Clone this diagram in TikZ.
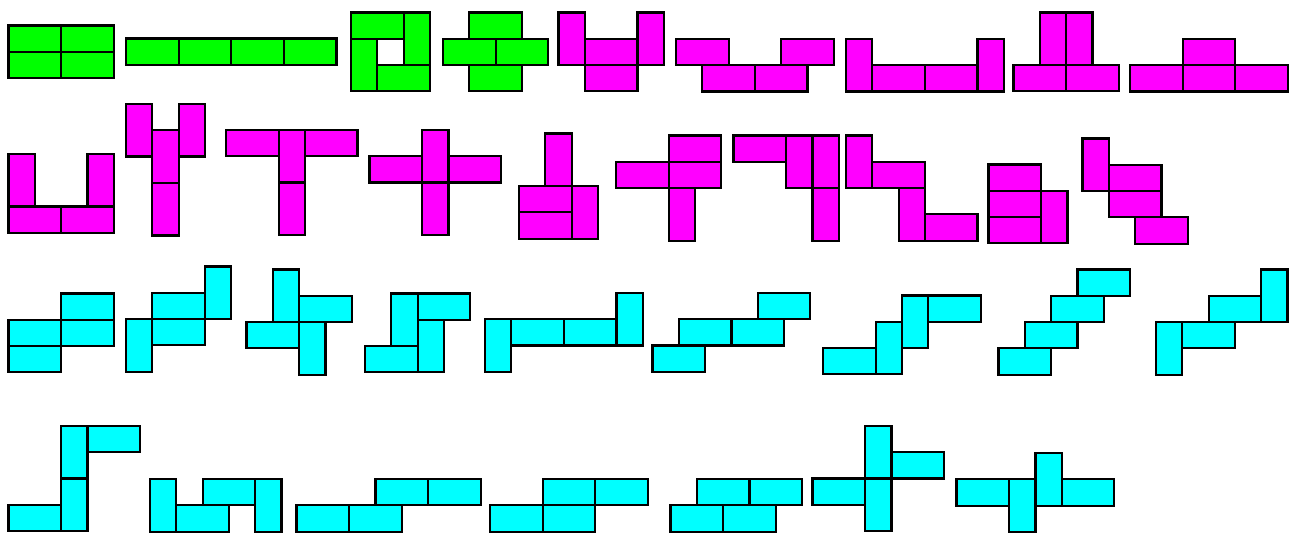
\documentclass[tikz,border=0pt]{standalone}
\definecolor{tg}{RGB}{0,255,0}
\definecolor{tm}{RGB}{255,0,255}
\definecolor{tc}{RGB}{0,255,255}
\tikzset{
  tile/.style={draw=black, line width=2.2pt, line join=miter},
  gfill/.style={tile/.append style={fill=tg}},
  mfill/.style={tile/.append style={fill=tm}},
  cfill/.style={tile/.append style={fill=tc}},
  cellunit/.style={x=26.3pt, y=-26.3pt}
}
\newcommand\Hd[2]{\draw[tile] (#1,#2) rectangle ++(2,1);}
\newcommand\Vd[2]{\draw[tile] (#1,#2) rectangle ++(1,2);}
\newcommand\piece[3]{\begin{scope}[shift={(#1,#2)},cellunit,#3]}
\begin{document}
\begin{tikzpicture}[x=1pt,y=-1pt]
\useasboundingbox (0,0) rectangle (1291,534);
% row 1
\piece{8.5}{25.5}{gfill} \Hd00 \Hd20 \Hd01 \Hd21 \end{scope}
\piece{126}{38.5}{gfill} \Hd00 \Hd20 \Hd40 \Hd60 \end{scope}
\piece{351}{12.5}{gfill} \Hd00 \Vd20 \Hd12 \Vd01 \end{scope}
\piece{443}{12.5}{gfill} \Hd10 \Hd01 \Hd21 \Hd12 \end{scope}
\piece{558.5}{12.5}{mfill} \Vd00 \Hd11 \Vd30 \Hd12 \end{scope}
\piece{676}{39}{mfill} \Hd00 \Hd11 \Hd31 \Hd40 \end{scope}
\piece{846}{39}{mfill} \Vd00 \Hd11 \Hd31 \Vd50 \end{scope}
\piece{1013.5}{12.5}{mfill} \Vd10 \Vd20 \Hd02 \Hd22 \end{scope}
\piece{1130}{39}{mfill} \Hd20 \Hd01 \Hd21 \Hd41 \end{scope}
% row 2
\piece{8.5}{154}{mfill} \Vd00 \Vd30 \Hd02 \Hd22 \end{scope}
\piece{126}{104}{mfill} \Vd00 \Vd11 \Vd20 \Vd13 \end{scope}
\piece{226}{130}{mfill} \Hd00 \Hd30 \Vd20 \Vd22 \end{scope}
\piece{369.5}{130}{mfill} \Hd01 \Vd20 \Hd31 \Vd22 \end{scope}
\piece{519}{133.5}{mfill} \Vd10 \Hd02 \Hd03 \Vd22 \end{scope}
\piece{616}{135.5}{mfill} \Hd20 \Hd01 \Hd21 \Vd22 \end{scope}
\piece{733.5}{135.5}{mfill} \Hd00 \Vd20 \Vd30 \Vd32 \end{scope}
\piece{846}{135.5}{mfill} \Vd00 \Hd11 \Vd22 \Hd33 \end{scope}
\piece{988.5}{164.5}{mfill} \Hd00 \Hd01 \Hd02 \Vd21 \end{scope}
\piece{1082.5}{138.5}{mfill} \Vd00 \Hd11 \Hd12 \Hd23 \end{scope}
% row 3
\piece{8.5}{293.5}{cfill} \Hd20 \Hd01 \Hd21 \Hd02 \end{scope}
\piece{126}{266.5}{cfill} \Vd30 \Hd11 \Hd12 \Vd02 \end{scope}
\piece{246.5}{269.5}{cfill} \Vd10 \Hd21 \Hd02 \Vd22 \end{scope}
\piece{365}{293.5}{cfill} \Vd10 \Hd20 \Vd21 \Hd02 \end{scope}
\piece{485}{293}{cfill} \Vd01 \Hd11 \Hd31 \Vd50 \end{scope}
\piece{652.5}{293}{cfill} \Hd40 \Hd11 \Hd31 \Hd02 \end{scope}
\piece{823}{295.5}{cfill} \Hd02 \Vd21 \Vd30 \Hd40 \end{scope}
\piece{998.5}{269.5}{cfill} \Hd30 \Hd21 \Hd12 \Hd03 \end{scope}
\piece{1156}{269.5}{cfill} \Vd40 \Hd21 \Hd12 \Vd02 \end{scope}
% row 4
\piece{8.5}{426}{cfill} \Vd20 \Hd30 \Vd22 \Hd03 \end{scope}
\piece{150}{479}{cfill} \Vd00 \Hd11 \Hd20 \Vd40 \end{scope}
\piece{296.5}{479}{cfill} \Hd01 \Hd21 \Hd30 \Hd50 \end{scope}
\piece{490}{479}{cfill} \Hd01 \Hd21 \Hd20 \Hd40 \end{scope}
\piece{670.5}{479}{cfill} \Hd01 \Hd21 \Hd10 \Hd30 \end{scope}
\piece{812.5}{426}{cfill} \Vd20 \Hd31 \Hd02 \Vd22 \end{scope}
\piece{956.5}{453}{cfill} \Hd01 \Vd21 \Vd30 \Hd41 \end{scope}
\end{tikzpicture}
\end{document}
